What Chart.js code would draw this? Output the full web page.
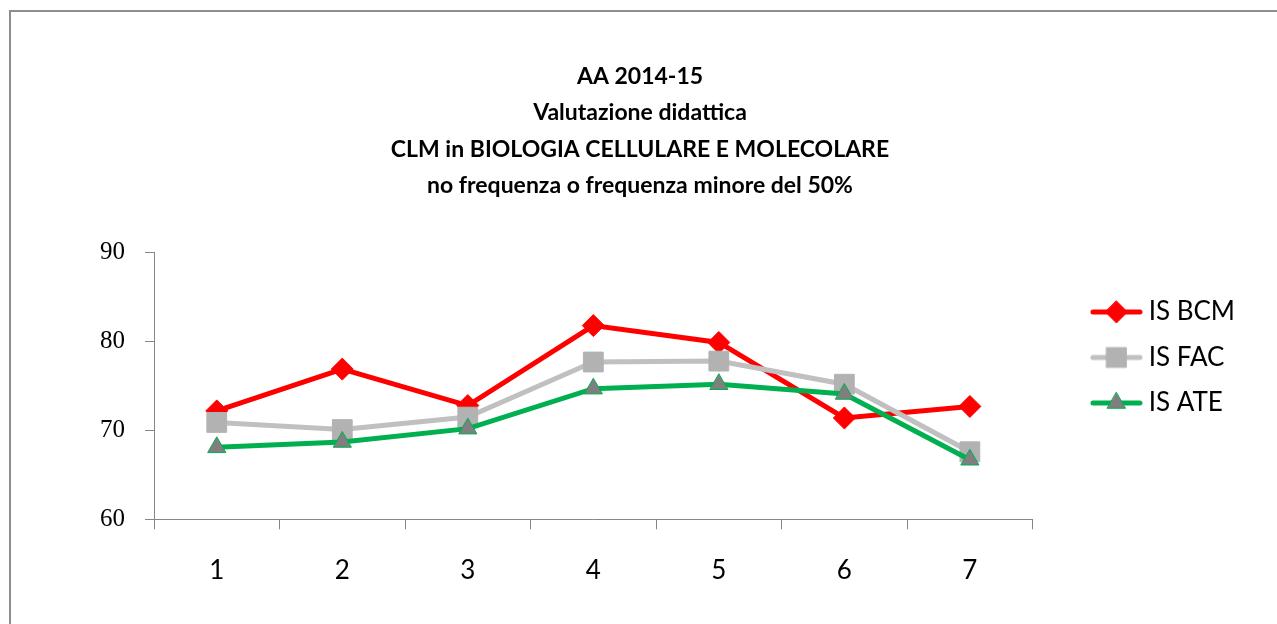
<!DOCTYPE html>
<html>
<head>
<meta charset="utf-8">
<script src="https://cdn.jsdelivr.net/npm/chart.js@4/dist/chart.umd.min.js"></script>
<style>
    html, body { margin: 0; padding: 0; background: #fff; overflow: hidden; }
    #frame { position: absolute; left: 9px; top: 10px; width: 1400px; height: 700px; border: 2px solid #8e8e8e; }
    #wrap { position: absolute; left: 0; top: 0; width: 1277px; height: 624px; }
</style>
</head>
<body>
<div id="frame"></div>
<div id="wrap"><canvas id="chart" width="1277" height="624"></canvas></div>
<script>
// dati
const categories = ['1', '2', '3', '4', '5', '6', '7'];
const seriesNames = ['IS BCM', 'IS FAC', 'IS ATE'];
const bcmValues = [72.2, 76.9, 72.8, 81.8, 79.9, 71.4, 72.7];
const facValues = [70.9, 70.1, 71.5, 77.7, 77.8, 75.2, 67.6];
const ateValues = [68.1, 68.7, 70.2, 74.7, 75.2, 74.1, 66.7];
const yTicks = [60, 70, 80, 90];
const titleLines = ['AA 2014-15', 'Valutazione didattica', 'CLM in BIOLOGIA CELLULARE E MOLECOLARE', 'no frequenza o frequenza minore del 50%'];

// icona legenda: linea + marker (come Excel)
function legendIcon(color, marker, fill, border, r) {
    const c = document.createElement('canvas');
    c.width = 98;
    c.height = 26;
    const g = c.getContext('2d');
    const x0 = 46, x1 = 97, cx = (x0 + x1) / 2, cy = 13;
    g.strokeStyle = color;
    g.lineWidth = 5;
    g.lineCap = 'round';
    g.beginPath();
    g.moveTo(x0 + 2, cy);
    g.lineTo(x1 - 2, cy);
    g.stroke();
    g.fillStyle = fill;
    g.beginPath();
    if (marker === 'rectRot') {
        g.moveTo(cx, cy - r); g.lineTo(cx + r, cy); g.lineTo(cx, cy + r); g.lineTo(cx - r, cy);
    } else if (marker === 'rect') {
        const s = r * Math.SQRT1_2;
        g.rect(cx - s, cy - s, 2 * s, 2 * s);
    } else {
        g.moveTo(cx, cy - r); g.lineTo(cx + r * 0.866, cy + r / 2); g.lineTo(cx - r * 0.866, cy + r / 2);
    }
    g.closePath();
    g.fill();
    g.strokeStyle = border;
    g.lineWidth = 1;
    g.stroke();
    return c;
}

const icons = [
    legendIcon('#ff0000', 'rectRot', '#ff0000', '#ff0000', 11),
    legendIcon('#c0c0c0', 'rect', '#b2b2b2', '#b2b2b2', 14),
    legendIcon('#00b050', 'triangle', '#7f7f7f', '#00b050', 10.5)
];

const ctx = document.getElementById('chart').getContext('2d');

new Chart(ctx, {
    type: 'line',
    data: {
        labels: categories,
        datasets: [{
            label: seriesNames[0],
            data: bcmValues,
            borderColor: '#ff0000',
            backgroundColor: '#ff0000',
            borderWidth: 5,
            pointStyle: 'rectRot',
            pointRadius: 11,
            pointBorderWidth: 1,
            pointBackgroundColor: '#ff0000',
            pointBorderColor: '#ff0000',
            order: 3
        }, {
            label: seriesNames[1],
            data: facValues,
            borderColor: '#c0c0c0',
            backgroundColor: '#b2b2b2',
            borderWidth: 5,
            pointStyle: 'rect',
            pointRadius: 14,
            pointBorderWidth: 1,
            pointBackgroundColor: '#b2b2b2',
            pointBorderColor: '#b2b2b2',
            order: 2
        }, {
            label: seriesNames[2],
            data: ateValues,
            borderColor: '#00b050',
            backgroundColor: '#7f7f7f',
            borderWidth: 5,
            pointStyle: 'triangle',
            pointRadius: 10.5,
            pointBorderWidth: 1,
            pointBackgroundColor: '#7f7f7f',
            pointBorderColor: '#00b050',
            order: 1
        }]
    },
    options: {
        responsive: false,
        animation: false,
        layout: { padding: { left: 35, right: 32, top: 0, bottom: 0 } },
        plugins: {
            tooltip: { enabled: false },
            title: {
                display: true,
                text: titleLines,
                color: '#000',
                font: { family: 'Lato', weight: 'bold', size: 23, lineHeight: 36.5 / 23 },
                padding: { top: 58, bottom: 48.7 }
            },
            legend: {
                position: 'right',
                align: 'start',
                fullSize: false,
                title: { display: true, text: ' ', font: { size: 10, lineHeight: 1.2 }, padding: { top: 0, bottom: 14.8 } },
                labels: {
                    usePointStyle: true,
                    pointStyleWidth: 83.5,
                    boxHeight: 26,
                    padding: 19.5,
                    color: '#000',
                    font: { family: 'Lato', size: 26 },
                    sort: (a, b) => a.datasetIndex - b.datasetIndex,
                    generateLabels: function (chart) {
                        const items = Chart.defaults.plugins.legend.labels.generateLabels(chart);
                        items.forEach(item => { item.pointStyle = icons[item.datasetIndex]; });
                        return items;
                    }
                }
            }
        },
        scales: {
            x: {
                offset: true,
                grid: { offset: true, drawOnChartArea: false, drawTicks: true, tickLength: 10, tickColor: '#868686' },
                border: { color: '#868686', width: 1 },
                ticks: { color: '#000', padding: 26, font: { family: 'Lato', size: 26 } },
                afterFit: scale => { scale.height = 104.7; }
            },
            y: {
                min: 60,
                max: 90,
                afterBuildTicks: scale => { scale.ticks = yTicks.map(v => ({ value: v })); },
                grid: { drawOnChartArea: false, drawTicks: true, tickLength: 9, tickColor: '#868686' },
                border: { color: '#868686', width: 1 },
                ticks: { color: '#000', padding: 20, font: { family: 'Liberation Serif', size: 25 } },
                afterFit: scale => { scale.width = 119; }
            }
        }
    }
});
</script>
</body>
</html>
